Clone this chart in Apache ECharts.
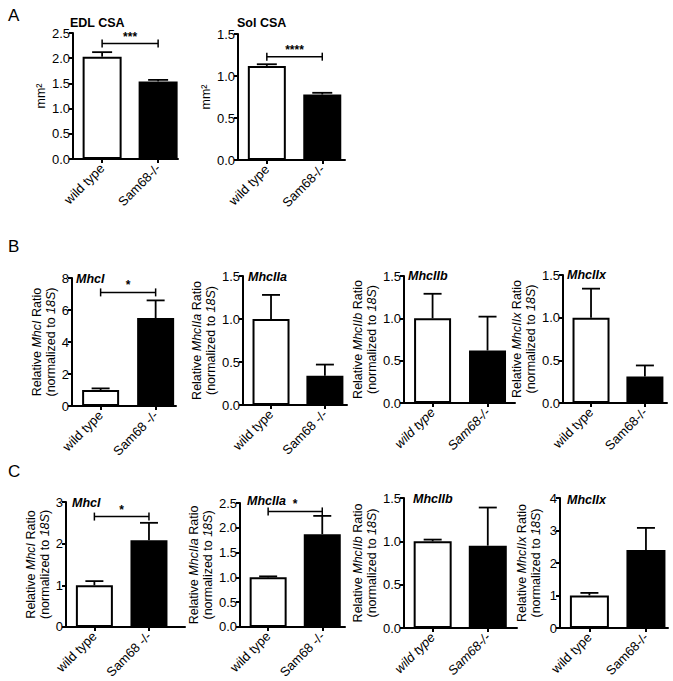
<!DOCTYPE html>
<html><head><meta charset="utf-8">
<script src="https://cdn.jsdelivr.net/npm/echarts@6/dist/echarts.min.js"></script>
<style>html,body{margin:0;padding:0;background:#fff}#c{width:673px;height:681px}</style>
</head><body><div id="c"></div>
<script>
// ---------------- DATA ----------------
const groupsA = ['wild type', 'Sam68-/-'];
const groupsSpaced = ['wild type', 'Sam68 -/-'];
const groupsTight = ['wild type', 'Sam68-/-'];

// Panel A (cross-sectional area, mm²)
const edlMean = [2.03, 1.54];
const edlErrTop = [2.12, 1.57];
const edlBracket = 2.29, edlSig = '***';
const solMean = [1.12, 0.78];
const solErrTop = [1.14, 0.80];
const solBracket = 1.23, solSig = '****';

// Panel B (relative ratio normalized to 18S)
const bMhcIMean = [1.0, 5.5];
const bMhcIErrTop = [1.1, 6.6];
const bMhcIBracket = 7.1, bMhcISig = '*';
const bMhcIIaMean = [1.0, 0.34];
const bMhcIIaErrTop = [1.28, 0.47];
const bMhcIIbMean = [1.0, 0.62];
const bMhcIIbErrTop = [1.29, 1.02];
const bMhcIIxMean = [1.0, 0.31];
const bMhcIIxErrTop = [1.34, 0.44];

// Panel C
const cMhcIMean = [1.0, 2.08];
const cMhcIErrTop = [1.1, 2.5];
const cMhcIBracket = 2.65, cMhcISig = '*';
const cMhcIIaMean = [1.0, 1.87];
const cMhcIIaErrTop = [1.02, 2.24];
const cMhcIIaBracket = 2.33, cMhcIIaSig = '*';
const cMhcIIbMean = [1.0, 0.95];
const cMhcIIbErrTop = [1.02, 1.39];
const cMhcIIxMean = [1.0, 2.4];
const cMhcIIxErrTop = [1.08, 3.08];

// y-axis scales
const yMaxList = { edl: 2.5, sol: 1.5, bI: 8, bIIa: 1.5, bIIb: 1.5, bIIx: 1.5, cI: 3, cIIa: 2.5, cIIb: 1.5, cIIx: 4 };
const yIntList = { edl: 0.5, sol: 0.5, bI: 2, bIIa: 0.5, bIIb: 0.5, bIIx: 0.5, cI: 1, cIIa: 0.5, cIIb: 0.5, cIIx: 1 };

// ---------------- LAYOUT ----------------
const FONT = 'Liberation Sans, Arial, Helvetica, sans-serif';
function relName(gene) {
  return '{n|Relative }{i|' + gene + '}{n| Ratio}\n{n|(normalized to }{i|18S}{n|)}';
}
const charts = [
  { key: 'edl', title: 'EDL CSA', tItal: false, tl: 70, tt: 16, L: 73, T: 33, W: 105, H: 126, xMax: 1.355, mean: edlMean, err: edlErrTop, br: edlBracket, sig: edlSig, cats: groupsA, name: 'mm²', gap: 25, bw: 39, cap: 20, dec: 1 },
  { key: 'sol', title: 'Sol CSA', tItal: false, tl: 237, tt: 16, L: 238, T: 34, W: 107, H: 126, xMax: 1.41, mean: solMean, err: solErrTop, br: solBracket, sig: solSig, cats: groupsA, name: 'mm²', gap: 24, bw: 38, cap: 20, dec: 1 },
  { key: 'bI', title: 'MhcI', tItal: true, tl: 76, tt: 272, L: 72, T: 278, W: 104, H: 128, xMax: 1.37, mean: bMhcIMean, err: bMhcIErrTop, br: bMhcIBracket, sig: bMhcISig, cats: groupsSpaced, name: relName('MhcI'), gap: 13, bw: 37, cap: 18, dec: 0 },
  { key: 'bIIa', title: 'MhcIIa', tItal: true, tl: 248, tt: 270, L: 243, T: 276, W: 104, H: 129, xMax: 1.41, mean: bMhcIIaMean, err: bMhcIIaErrTop, cats: groupsSpaced, name: relName('MhcIIa'), gap: 24, bw: 37, cap: 18, dec: 1 },
  { key: 'bIIb', title: 'MhcIIb', tItal: true, tl: 408, tt: 269, L: 404, T: 276, W: 111, H: 127, xMax: 1.50, mean: bMhcIIbMean, err: bMhcIIbErrTop, cats: groupsTight, labItal: true, name: relName('MhcIIb'), gap: 21, bw: 37, cap: 18, dec: 1 },
  { key: 'bIIx', title: 'MhcIIx', tItal: true, tl: 567, tt: 268, L: 563, T: 275, W: 104, H: 128, xMax: 1.41, mean: bMhcIIxMean, err: bMhcIIxErrTop, cats: groupsTight, name: relName('MhcIIx'), gap: 20, bw: 37, cap: 18, dec: 1 },
  { key: 'cI', title: 'MhcI', tItal: true, tl: 72, tt: 496, L: 66, T: 502, W: 119, H: 128, xMax: 1.66, mean: cMhcIMean, err: cMhcIErrTop, br: cMhcIBracket, sig: cMhcISig, cats: groupsSpaced, name: relName('MhcI'), gap: 12, bw: 37, cap: 18, dec: 0 },
  { key: 'cIIa', title: 'MhcIIa', tItal: true, tl: 247, tt: 494, L: 240, T: 503, W: 105, H: 127, xMax: 1.42, mean: cMhcIIaMean, err: cMhcIIaErrTop, br: cMhcIIaBracket, sig: cMhcIIaSig, cats: groupsSpaced, name: relName('MhcIIa'), gap: 22, bw: 37, cap: 18, dec: 1 },
  { key: 'cIIb', title: 'MhcIIb', tItal: true, tl: 413, tt: 492, L: 404, T: 498, W: 113, H: 130, xMax: 1.53, mean: cMhcIIbMean, err: cMhcIIbErrTop, cats: groupsTight, labItal: true, name: relName('MhcIIb'), gap: 23, bw: 38, cap: 18, dec: 1 },
  { key: 'cIIx', title: 'MhcIIx', tItal: true, tl: 567, tt: 493, L: 560, T: 498, W: 108, H: 130, xMax: 1.39, mean: cMhcIIxMean, err: cMhcIIxErrTop, cats: groupsTight, name: relName('MhcIIx'), gap: 17, bw: 39, cap: 18, dec: 0 }
];
const XMIN = -0.52;

function errRender(cap) {
  return function (params, api) {
    const x = api.value(0), m = api.value(1), t = api.value(2);
    const p0 = api.coord([x, m]), p1 = api.coord([x, t]);
    const st = { stroke: '#000', lineWidth: 1.8 };
    return { type: 'group', children: [
      { type: 'line', shape: { x1: p0[0], y1: p0[1], x2: p1[0], y2: p1[1] }, style: st },
      { type: 'line', shape: { x1: p1[0] - cap / 2, y1: p1[1], x2: p1[0] + cap / 2, y2: p1[1] }, style: st }
    ] };
  };
}
function bracketRender(sig) {
  return function (params, api) {
    const y = api.value(2);
    const a = api.coord([api.value(0), y]), b = api.coord([api.value(1), y]);
    const st = { stroke: '#000', lineWidth: 1.5 };
    return { type: 'group', children: [
      { type: 'line', shape: { x1: a[0], y1: a[1], x2: b[0], y2: b[1] }, style: st },
      { type: 'line', shape: { x1: a[0], y1: a[1] - 4, x2: a[0], y2: a[1] + 4 }, style: st },
      { type: 'line', shape: { x1: b[0], y1: b[1] - 4, x2: b[0], y2: b[1] + 4 }, style: st },
      { type: 'text', style: { text: sig, x: (a[0] + b[0]) / 2, y: a[1] - 1, align: 'center', verticalAlign: 'bottom', font: 'bold 12px ' + FONT, fill: '#000' } }
    ] };
  };
}

const option = { animation: false, backgroundColor: '#fff', title: [], grid: [], xAxis: [], yAxis: [], series: [] };
option.title.push({ text: 'A', left: 3, top: 2, textStyle: { fontSize: 17, fontWeight: 'normal', fontFamily: FONT, color: '#000' } });
option.title.push({ text: 'B', left: 3, top: 233, textStyle: { fontSize: 17, fontWeight: 'normal', fontFamily: FONT, color: '#000' } });
option.title.push({ text: 'C', left: 3, top: 458, textStyle: { fontSize: 17, fontWeight: 'normal', fontFamily: FONT, color: '#000' } });

charts.forEach((c, i) => {
  option.title.push({ text: c.title, left: c.tl, top: c.tt, padding: 0,
    textStyle: { fontSize: 12.5, fontWeight: 'bold', fontStyle: c.tItal ? 'italic' : 'normal', fontFamily: FONT, color: '#000' } });
  option.grid.push({ left: c.L, top: c.T, width: c.W, height: c.H, containLabel: false });
  option.xAxis.push({ type: 'value', gridIndex: i, min: XMIN, max: c.xMax,
    axisLine: { show: true, onZero: false, lineStyle: { color: '#000', width: 2 } },
    axisTick: { show: true, customValues: [0, 1], length: 4, lineStyle: { color: '#000', width: 2 } },
    axisLabel: { show: true, customValues: [0, 1], rotate: 45, margin: 7, color: '#000', fontSize: 13, fontFamily: FONT,
      fontStyle: c.labItal ? 'italic' : 'normal', formatter: v => c.cats[Math.round(v)] },
    splitLine: { show: false } });
  const yMax = yMaxList[c.key], yInt = yIntList[c.key];
  option.yAxis.push({ type: 'value', gridIndex: i, min: 0, max: yMax, interval: yInt,
    name: c.name, nameLocation: 'middle', nameGap: c.gap,
    nameTextStyle: { fontSize: 12.5, fontFamily: FONT, color: '#000', lineHeight: 14,
      rich: { n: { fontSize: 12.5, fontFamily: FONT, color: '#000', lineHeight: 14 },
              i: { fontSize: 12.5, fontFamily: FONT, color: '#000', fontStyle: 'italic', lineHeight: 14 } } },
    axisLine: { show: true, onZero: false, lineStyle: { color: '#000', width: 2 } },
    axisTick: { show: true, length: 4, lineStyle: { color: '#000', width: 2 } },
    axisLabel: { margin: 3, color: '#000', fontSize: 13, fontFamily: FONT, formatter: v => v.toFixed(c.dec) },
    splitLine: { show: false } });
  option.series.push({ type: 'bar', xAxisIndex: i, yAxisIndex: i, barWidth: c.bw, z: 2,
    data: [
      { value: [0, c.mean[0]], itemStyle: { color: '#fff', borderColor: '#000', borderWidth: 2 } },
      { value: [1, c.mean[1]], itemStyle: { color: '#000', borderColor: '#000', borderWidth: 2 } }
    ] });
  option.series.push({ type: 'custom', xAxisIndex: i, yAxisIndex: i, z: 3, renderItem: errRender(c.cap),
    data: [[0, c.mean[0], c.err[0]], [1, c.mean[1], c.err[1]]] });
  if (c.br !== undefined) {
    option.series.push({ type: 'custom', xAxisIndex: i, yAxisIndex: i, z: 3, renderItem: bracketRender(c.sig),
      data: [[0, 1, c.br]] });
  }
});

const chart = echarts.init(document.getElementById('c'), null, { renderer: 'svg' });
chart.setOption(option);
</script>
</body></html>
